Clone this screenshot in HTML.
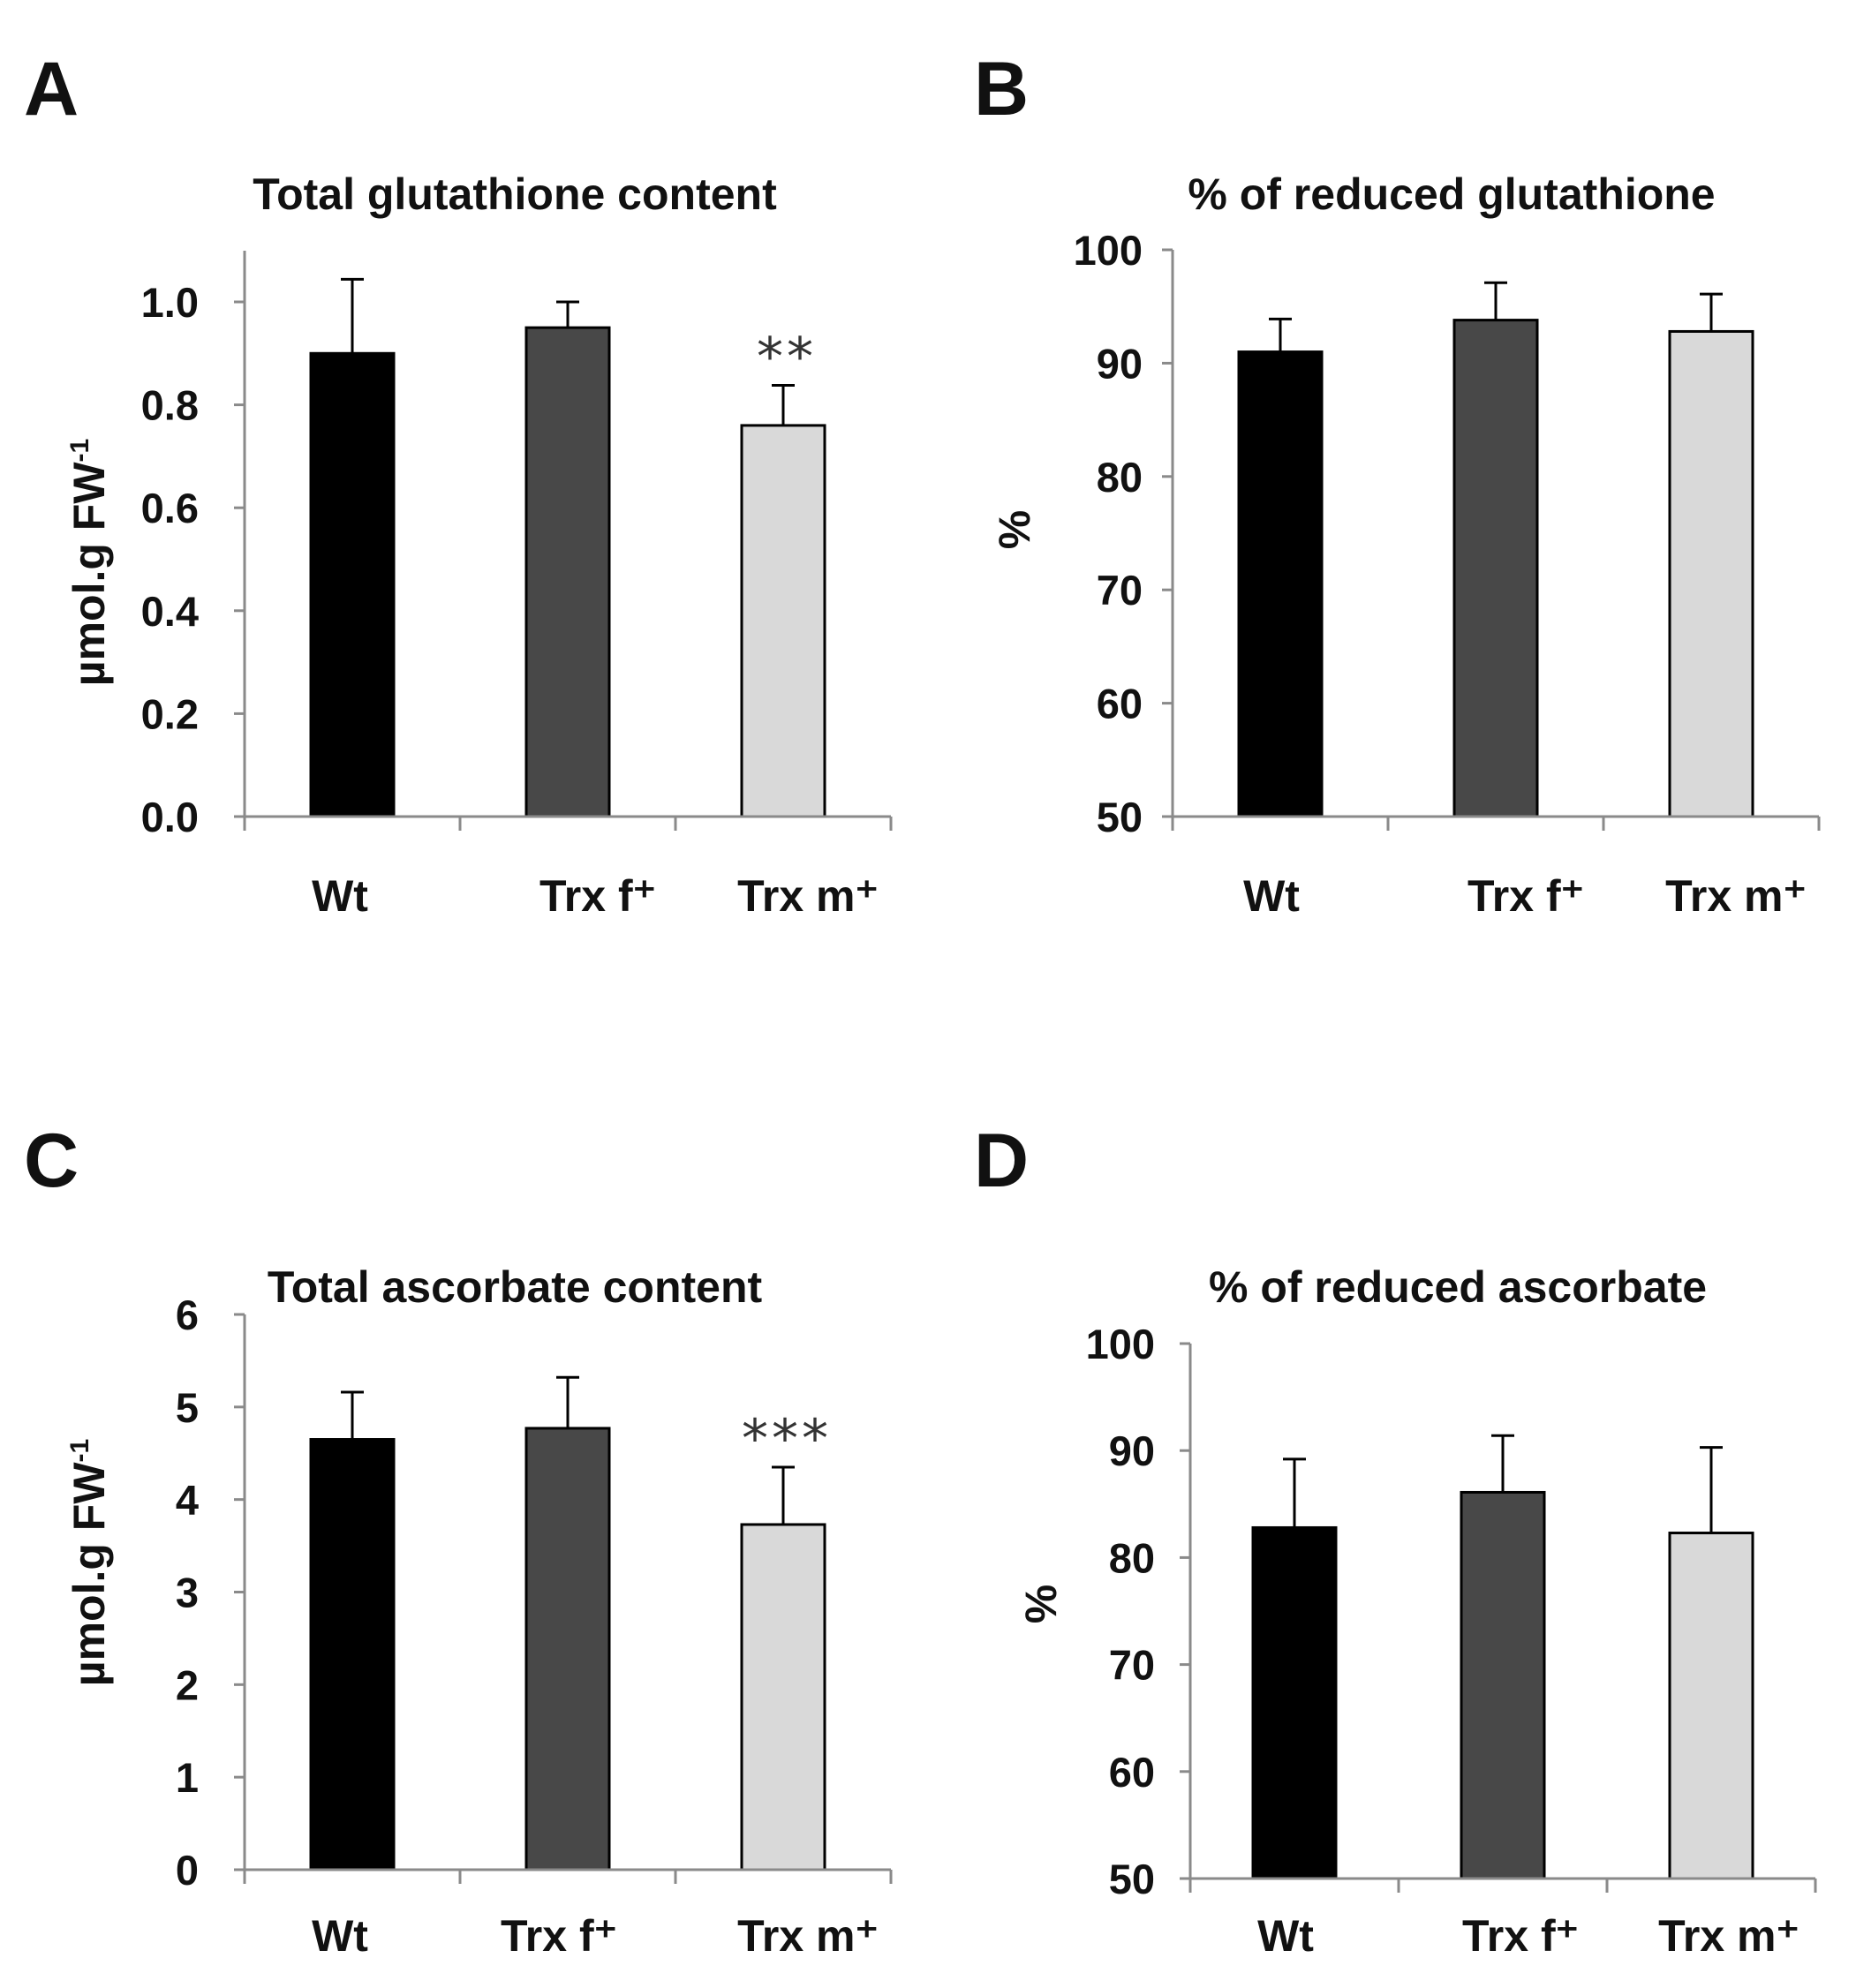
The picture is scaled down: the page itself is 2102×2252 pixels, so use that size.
<!DOCTYPE html>
<html><head><meta charset="utf-8"><style>
html,body{margin:0;padding:0;background:#fff}
svg{display:block}
text{font-family:"Liberation Sans",sans-serif;font-weight:bold;fill:#111}
</style></head><body>
<svg id="fig" width="2102" height="2252" viewBox="0 0 2102 2252" xmlns="http://www.w3.org/2000/svg">
<text x="27" y="130" font-size="86">A</text>
<text x="1103" y="130" font-size="86">B</text>
<text x="27" y="1344" font-size="86">C</text>
<text x="1103" y="1344" font-size="86">D</text>
</svg>
<script>
const categories = ["Wt", "Trx f\u207A", "Trx m\u207A"];
const valuesA = [0.90, 0.95, 0.76];
const errorsA = [0.144, 0.05, 0.078];
const ticksA = ["0.0","0.2","0.4","0.6","0.8","1.0"];
const valuesB = [91.0, 93.8, 92.8];
const errorsB = [2.9, 3.3, 3.3];
const ticksB = ["50","60","70","80","90","100"];
const valuesC = [4.65, 4.77, 3.73];
const errorsC = [0.51, 0.55, 0.62];
const ticksC = ["0","1","2","3","4","5","6"];
const valuesD = [82.8, 86.1, 82.3];
const errorsD = [6.4, 5.3, 8.0];
const ticksD = ["50","60","70","80","90","100"];
const signifA = ["", "", "**"];
const signifC = ["", "", "***"];
const fills = ["#000000", "#484848", "#d9d9d9"];

const NS = "http://www.w3.org/2000/svg";
const svg = document.getElementById("fig");
function mk(tag, attrs, parent) {
  const e = document.createElementNS(NS, tag);
  for (const k in attrs) e.setAttribute(k, attrs[k]);
  (parent || svg).appendChild(e);
  return e;
}

function panel(cfg) {
  const g = mk("g", {});
  
  
  const tickVals = cfg.ticks.map(Number);
  const ymin = tickVals[0], ymax = tickVals[tickVals.length - 1];
  const y = v => cfg.y0 - (v - ymin) / (ymax - ymin) * (cfg.y0 - cfg.yTop);
  const cw = (cfg.x1 - cfg.x0) / categories.length;
  const xc = i => cfg.x0 + cw * (i + 0.5);
  const ya = mk("line", {x1: cfg.x0, x2: cfg.x0, y1: cfg.axisTop, y2: cfg.y0, stroke: "#8a8a8a", "stroke-width": 3}, g);
  
  
  cfg.ticks.forEach((t, i) => {
    const yy = y(tickVals[i]);
    const tk = mk("line", {x1: cfg.x0 - 12, x2: cfg.x0, y1: yy, y2: yy, stroke: "#8a8a8a", "stroke-width": 3}, g);
    
    
    const tl = mk("text", {x: cfg.x0 - cfg.tickGap, y: yy + 17, "font-size": 47, "text-anchor": "end"}, g);
    tl.textContent = t;
    
    
  });
  categories.forEach((c, i) => {
    const v = cfg.values[i], e = cfg.errors[i];
    const bx = xc(i) - 47;
    const et = y(v + e), bt = y(v);
    const el = mk("line", {x1: xc(i), x2: xc(i), y1: et, y2: bt, stroke: "#000", "stroke-width": 3}, g);
    
    
    const ec = mk("line", {x1: xc(i) - 13, x2: xc(i) + 13, y1: et, y2: et, stroke: "#000", "stroke-width": 3}, g);
    
    
    const r = mk("rect", {x: bx, y: bt, width: 94, height: cfg.y0 - bt, fill: fills[i], stroke: "#000", "stroke-width": 3}, g);
    
    
    if (cfg.signif && cfg.signif[i]) {
      const s = mk("text", {x: xc(i) + 4, y: et - 12, "font-size": 60, "text-anchor": "middle", style: "font-family:'DejaVu Sans',sans-serif;font-weight:normal;fill:#333;letter-spacing:4px"}, g);
      s.textContent = cfg.signif[i];
      
      
    }
    const cl = mk("text", {x: xc(i) + cfg.labelShift[i], y: cfg.labelY, "font-size": 50, "text-anchor": "middle"}, g);
    cl.textContent = c;
    
    
  });
  const xa = mk("line", {x1: cfg.x0 - 12, x2: cfg.x1, y1: cfg.y0, y2: cfg.y0, stroke: "#8a8a8a", "stroke-width": 3}, g);
  
  
  for (let i = 0; i <= categories.length; i++) {
    const xt = mk("line", {x1: cfg.x0 + cw * i, x2: cfg.x0 + cw * i, y1: cfg.y0, y2: cfg.y0 + 16, stroke: "#8a8a8a", "stroke-width": 3}, g);
    
    
  }
  const ti = mk("text", {x: cfg.titleX, y: cfg.titleY, "font-size": 50, "text-anchor": "middle"}, g);
  ti.textContent = cfg.title;
  
  
  const yl = mk("text", {x: 0, y: 0, "font-size": 50, "text-anchor": "middle", transform: `translate(${cfg.ylX},${cfg.ylY}) rotate(-90)`}, g);
  if (cfg.unit) {
    yl.textContent = "\u00B5mol.g FW";
    const sup = mk("tspan", {"font-size": 30, dy: -18}, yl);
    sup.textContent = "-1";
  } else yl.textContent = "%";
  
  
}

panel({name:"panel-a-total-glutathione", values:valuesA, errors:errorsA, ticks:ticksA, signif:signifA,
  x0:277, x1:1009, y0:925, yTop:342, axisTop:284, tickGap:52, labelY:1032, labelShift:[-14,34,28],
  title:"Total glutathione  content", titleX:583, titleY:237, unit:true, ylX:118, ylY:637});
panel({name:"panel-b-reduced-glutathione", values:valuesB, errors:errorsB, ticks:ticksB,
  x0:1328, x1:2060, y0:925, yTop:283, axisTop:283, tickGap:34, labelY:1032, labelShift:[-10,34,28],
  title:"%  of reduced glutathione", titleX:1644, titleY:237, unit:false, ylX:1166, ylY:600});
panel({name:"panel-c-total-ascorbate", values:valuesC, errors:errorsC, ticks:ticksC, signif:signifC,
  x0:277, x1:1009, y0:2118, yTop:1489, axisTop:1489, tickGap:52, labelY:2210, labelShift:[-14,-10,28],
  title:"Total  ascorbate content", titleX:583, titleY:1475, unit:true, ylX:118, ylY:1770});
panel({name:"panel-d-reduced-ascorbate", values:valuesD, errors:errorsD, ticks:ticksD,
  x0:1348, x1:2056, y0:2128, yTop:1522, axisTop:1522, tickGap:40, labelY:2210, labelShift:[-10,20,20],
  title:"%  of reduced ascorbate", titleX:1651, titleY:1475, unit:false, ylX:1196, ylY:1817});
</script>
</body></html>
